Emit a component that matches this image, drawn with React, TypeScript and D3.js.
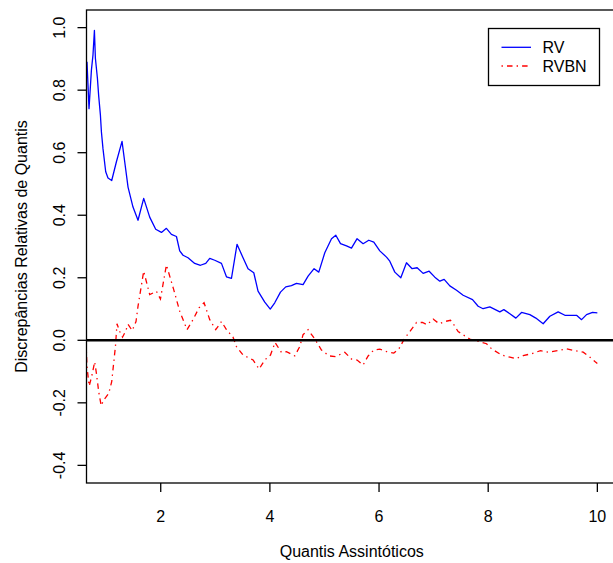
import * as d3 from 'd3'

// RV curve (quantis assintóticos x discrepância relativa)
const rvX = [0.649, 0.686, 0.730, 0.759, 0.785, 0.803, 0.840, 0.864, 0.895, 0.913, 0.942, 0.992, 1.034, 1.102, 1.188, 1.291, 1.340, 1.401, 1.492, 1.584, 1.688, 1.798, 1.908, 2.013, 2.104, 2.196, 2.288, 2.348, 2.409, 2.500, 2.623, 2.728, 2.825, 2.898, 2.990, 3.113, 3.204, 3.296, 3.398, 3.508, 3.600, 3.705, 3.783, 3.906, 4.007, 4.089, 4.194, 4.291, 4.395, 4.487, 4.608, 4.700, 4.810, 4.896, 5.006, 5.129, 5.208, 5.294, 5.404, 5.495, 5.598, 5.708, 5.812, 5.904, 6.014, 6.137, 6.197, 6.289, 6.399, 6.503, 6.606, 6.698, 6.808, 6.918, 7.022, 7.114, 7.193, 7.297, 7.420, 7.541, 7.713, 7.816, 7.907, 8.030, 8.213, 8.287, 8.397, 8.507, 8.611, 8.763, 8.873, 9.007, 9.130, 9.282, 9.405, 9.619, 9.711, 9.802, 9.912, 10.0]
const rvY = [0.891, 0.741, 0.864, 0.913, 0.991, 0.902, 0.838, 0.780, 0.720, 0.667, 0.613, 0.539, 0.519, 0.511, 0.571, 0.636, 0.571, 0.490, 0.426, 0.384, 0.454, 0.394, 0.355, 0.345, 0.358, 0.339, 0.332, 0.286, 0.272, 0.264, 0.246, 0.240, 0.246, 0.262, 0.256, 0.246, 0.203, 0.198, 0.307, 0.264, 0.229, 0.216, 0.157, 0.122, 0.100, 0.120, 0.154, 0.171, 0.175, 0.182, 0.178, 0.205, 0.229, 0.218, 0.280, 0.325, 0.336, 0.309, 0.302, 0.295, 0.325, 0.309, 0.320, 0.314, 0.286, 0.266, 0.253, 0.218, 0.200, 0.248, 0.229, 0.232, 0.214, 0.221, 0.202, 0.189, 0.195, 0.174, 0.160, 0.144, 0.130, 0.109, 0.101, 0.107, 0.091, 0.098, 0.085, 0.071, 0.089, 0.082, 0.071, 0.053, 0.077, 0.091, 0.080, 0.080, 0.066, 0.082, 0.089, 0.088]

// RVBN curve
const rvbnX = [0.638, 0.649, 0.680, 0.690, 0.741, 0.790, 0.821, 0.864, 0.909, 0.955, 1.047, 1.102, 1.170, 1.199, 1.249, 1.300, 1.353, 1.401, 1.478, 1.547, 1.584, 1.688, 1.798, 1.921, 1.995, 2.104, 2.238, 2.348, 2.482, 2.592, 2.702, 2.794, 2.898, 3.008, 3.113, 3.204, 3.325, 3.387, 3.508, 3.692, 3.802, 3.906, 4.011, 4.095, 4.212, 4.304, 4.456, 4.548, 4.608, 4.700, 4.823, 4.945, 5.085, 5.208, 5.372, 5.495, 5.598, 5.708, 5.800, 5.904, 6.014, 6.137, 6.271, 6.362, 6.472, 6.564, 6.687, 6.796, 6.881, 6.991, 7.101, 7.205, 7.310, 7.370, 7.449, 7.572, 7.663, 7.810, 7.970, 8.061, 8.245, 8.397, 8.507, 8.641, 8.794, 8.959, 9.099, 9.282, 9.436, 9.588, 9.741, 9.851, 9.955, 10.0]
const rvbnY = [-0.036, -0.084, -0.133, -0.146, -0.111, -0.069, -0.105, -0.165, -0.209, -0.191, -0.170, -0.132, -0.020, 0.053, 0.028, 0.010, 0.028, 0.051, 0.031, 0.060, 0.109, 0.221, 0.146, 0.157, 0.132, 0.241, 0.162, 0.093, 0.034, 0.066, 0.104, 0.120, 0.066, 0.034, 0.060, 0.034, 0.010, -0.020, -0.047, -0.063, -0.092, -0.063, -0.047, -0.007, -0.039, -0.036, -0.050, -0.020, 0.018, 0.034, 0.004, -0.031, -0.050, -0.052, -0.038, -0.060, -0.063, -0.079, -0.050, -0.031, -0.028, -0.036, -0.041, -0.028, 0.007, 0.028, 0.057, 0.057, 0.050, 0.068, 0.053, 0.060, 0.064, 0.050, 0.028, 0.014, 0.004, -0.003, -0.011, -0.027, -0.047, -0.054, -0.059, -0.049, -0.043, -0.033, -0.038, -0.033, -0.027, -0.033, -0.038, -0.052, -0.068, -0.074]

const xTicks = [2, 4, 6, 8, 10]
const yTicks = [-0.4, -0.2, 0.0, 0.2, 0.4, 0.6, 0.8, 1.0]
const seriesNames = ['RV', 'RVBN']

const W = 613
const H = 563
const FONT = 'Liberation Sans, Arial, sans-serif'

export default function App() {
  const m = { left: 86.5, top: 10, right: 617, bottom: 483 }

  // xlim c(1,10), ylim c(-0.4,1) com a expansão de 4% do R
  const x = d3.scaleLinear().domain([0.64, 10.36]).range([m.left, m.right])
  const y = d3.scaleLinear().domain([-0.4 - 0.0564, 1.0 + 0.0564]).range([m.bottom, m.top])

  const line = d3.line<number>()
  const rvPath = line(rvX.map((v, i) => [x(v), y(rvY[i])]) as any)
  const rvbnPath = line(rvbnX.map((v, i) => [x(v), y(rvbnY[i])]) as any)

  const lg = { x: 488.5, y: 28.5, w: 111, h: 57 }

  return (
    <svg width={W} height={H} style={{ position: 'absolute', left: 0, top: 0, background: '#fff' }}
      fontFamily={FONT}>
      <defs>
        <clipPath id="plotclip">
          <rect x={m.left} y={m.top} width={m.right - m.left} height={m.bottom - m.top} />
        </clipPath>
      </defs>

      <g clipPath="url(#plotclip)">
        <path d={rvPath || ''} fill="none" stroke="#0000ff" strokeWidth={1.3} strokeLinejoin="round" />
        <path d={rvbnPath || ''} fill="none" stroke="#ff0000" strokeWidth={1.3}
          strokeDasharray="1.4 4.1 5.5 4.1" />
        <line x1={m.left} x2={m.right} y1={y(0)} y2={y(0)} stroke="#000" strokeWidth={2.6} />
      </g>

      {/* caixa */}
      <rect x={m.left} y={m.top} width={m.right - m.left} height={m.bottom - m.top}
        fill="none" stroke="#000" strokeWidth={1.3} />

      {/* eixo x */}
      {xTicks.map(t => (
        <g key={'x' + t}>
          <line x1={x(t)} x2={x(t)} y1={m.bottom} y2={m.bottom + 9} stroke="#000" strokeWidth={1.3} />
          <text x={x(t)} y={522} textAnchor="middle" fontSize={16} fill="#000">{t}</text>
        </g>
      ))}
      <text x={(m.left + m.right) / 2} y={557} textAnchor="middle" fontSize={16} fill="#000">
        Quantis Assintóticos
      </text>

      {/* eixo y */}
      {yTicks.map(t => (
        <g key={'y' + t}>
          <line x1={m.left - 9} x2={m.left} y1={y(t)} y2={y(t)} stroke="#000" strokeWidth={1.3} />
          <text transform={`translate(64.5,${y(t)}) rotate(-90)`} textAnchor="middle" fontSize={16} fill="#000">
            {t.toFixed(1)}
          </text>
        </g>
      ))}
      <text transform={`translate(27,${(m.top + m.bottom) / 2}) rotate(-90)`} textAnchor="middle"
        fontSize={16} fill="#000">
        Discrepâncias Relativas de Quantis
      </text>

      {/* legenda */}
      <rect x={lg.x} y={lg.y} width={lg.w} height={lg.h} fill="#fff" stroke="#000" strokeWidth={1.3} />
      {seriesNames.map((name, i) => (
        <g key={name}>
          <line x1={501.5} x2={531} y1={47.3 + i * 18.7} y2={47.3 + i * 18.7}
            stroke={i === 0 ? '#0000ff' : '#ff0000'} strokeWidth={1.3}
            strokeDasharray={i === 0 ? undefined : '1.4 4.1 5.5 4.1'} />
          <text x={542.5} y={53.3 + i * 18.7} fontSize={16} fill="#000">{name}</text>
        </g>
      ))}
    </svg>
  )
}
